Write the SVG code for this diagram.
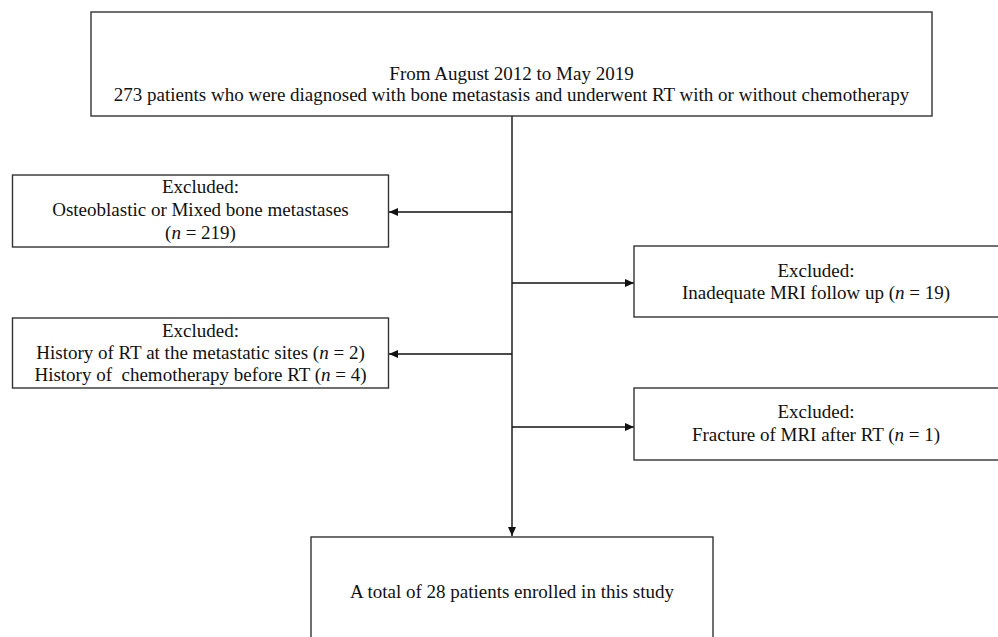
<svg xmlns="http://www.w3.org/2000/svg" width="998" height="637" viewBox="0 0 998 637">
<style>
.box{fill:#fff;stroke:#333;stroke-width:1.4}
.t{font-family:"Liberation Serif","Times New Roman",serif;font-size:19px;fill:#111;text-anchor:middle}
.c{fill:none;stroke:#111;stroke-width:1.4}
</style>
<defs>
<marker id="ah" markerWidth="9" markerHeight="8" refX="9" refY="4" orient="auto" markerUnits="userSpaceOnUse">
<path d="M0,0 L9,4 L0,8 Z" fill="#111"/>
</marker>
</defs>
<rect width="998" height="637" fill="#fff"/>
<g id="connectors">
<line class="c" x1="512" y1="116" x2="512" y2="536" marker-end="url(#ah)"/>
<line class="c" x1="512" y1="212" x2="389" y2="212" marker-end="url(#ah)"/>
<line class="c" x1="512" y1="283" x2="634" y2="283" marker-end="url(#ah)"/>
<line class="c" x1="512" y1="354" x2="389" y2="354" marker-end="url(#ah)"/>
<line class="c" x1="512" y1="427" x2="634" y2="427" marker-end="url(#ah)"/>
</g>
<g id="start">
<rect class="box" x="91" y="12" width="841" height="104"/>
<text class="t" x="511.5" y="80">From August 2012 to May 2019</text>
<text class="t" x="511.5" y="101">273 patients who were diagnosed with bone metastasis and underwent RT with or without chemotherapy</text>
</g>
<g id="excl1">
<rect class="box" x="12.5" y="175" width="376" height="72"/>
<text class="t" x="200.5" y="193">Excluded:</text>
<text class="t" x="200.5" y="216">Osteoblastic or Mixed bone metastases</text>
<text class="t" x="200.5" y="239">(<tspan font-style="italic">n</tspan> = 219)</text>
</g>
<g id="excl2">
<rect class="box" x="634" y="246" width="380" height="71"/>
<text class="t" x="816" y="277">Excluded:</text>
<text class="t" x="816" y="299">Inadequate MRI follow up (<tspan font-style="italic">n</tspan> = 19)</text>
</g>
<g id="excl3">
<rect class="box" x="12.5" y="318" width="376" height="70"/>
<text class="t" x="200.5" y="337">Excluded:</text>
<text class="t" x="200.5" y="359">History of RT at the metastatic sites (<tspan font-style="italic">n</tspan> = 2)</text>
<text class="t" x="200.5" y="381" xml:space="preserve">History of  chemotherapy before RT (<tspan font-style="italic">n</tspan> = 4)</text>
</g>
<g id="excl4">
<rect class="box" x="634" y="388" width="380" height="72"/>
<text class="t" x="816" y="418">Excluded:</text>
<text class="t" x="816" y="441">Fracture of MRI after RT (<tspan font-style="italic">n</tspan> = 1)</text>
</g>
<g id="final">
<rect class="box" x="311" y="537" width="402" height="120"/>
<text class="t" x="512" y="598">A total of 28 patients enrolled in this study</text>
</g>
</svg>
